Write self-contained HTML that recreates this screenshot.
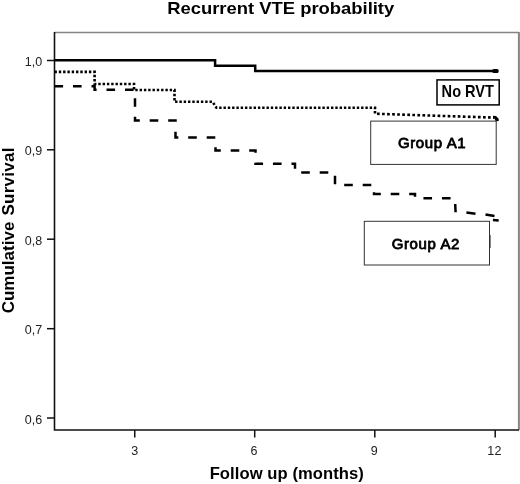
<!DOCTYPE html>
<html>
<head>
<meta charset="utf-8">
<title>Recurrent VTE probability</title>
<style>
html,body{margin:0;padding:0;background:#fff;}
body{width:520px;height:484px;overflow:hidden;font-family:"Liberation Sans",sans-serif;}
svg{display:block;will-change:transform;}
text{font-family:"Liberation Sans",sans-serif;}
</style>
</head>
<body>
<svg width="520" height="484" viewBox="0 0 520 484">
<rect x="0" y="0" width="520" height="484" fill="#ffffff"/>

<!-- title -->
<text id="title" transform="translate(280.7,13.6) scale(1,0.945)" font-size="18.42" font-weight="bold" text-anchor="middle" fill="#000">Recurrent VTE probability</text>

<!-- frame: top/right grey -->
<path d="M54.5 32.6 H518.9" fill="none" stroke="#858585" stroke-width="1.5"/>
<path d="M518.9 31.9 V430" fill="none" stroke="#858585" stroke-width="2"/>
<!-- axes -->
<path d="M54.5 32 V430 H519" fill="none" stroke="#111" stroke-width="1.6"/>

<!-- y ticks -->
<g stroke="#111" stroke-width="1.5">
<line x1="47" y1="60.5" x2="54.5" y2="60.5"/>
<line x1="47" y1="149.8" x2="54.5" y2="149.8"/>
<line x1="47" y1="239.2" x2="54.5" y2="239.2"/>
<line x1="47" y1="328.7" x2="54.5" y2="328.7"/>
<line x1="47" y1="418" x2="54.5" y2="418"/>
</g>
<!-- x ticks -->
<g stroke="#111" stroke-width="1.5">
<line x1="134.75" y1="430" x2="134.75" y2="437.5"/>
<line x1="254.7" y1="430" x2="254.7" y2="437.5"/>
<line x1="374.8" y1="430" x2="374.8" y2="437.5"/>
<line x1="495.2" y1="430" x2="495.2" y2="437.5"/>
</g>

<!-- y tick labels -->
<g font-size="12.5" fill="#222" text-anchor="end">
<text x="42.2" y="66">1,0</text>
<text x="42.2" y="155.3">0,9</text>
<text x="42.2" y="244.7">0,8</text>
<text x="42.2" y="334.2">0,7</text>
<text x="42.2" y="423.5">0,6</text>
</g>
<!-- x tick labels -->
<g font-size="12.5" fill="#222" text-anchor="middle">
<text x="134.75" y="455">3</text>
<text x="254.0" y="455">6</text>
<text x="374.2" y="455">9</text>
<text x="494.5" y="455" letter-spacing="0.4">12</text>
</g>

<!-- axis titles -->
<text id="xl" x="286.8" y="479.2" font-size="16.6" letter-spacing="0.07" font-weight="bold" text-anchor="middle" fill="#000">Follow up (months)</text>
<text id="yl" transform="translate(14.1,313.3) rotate(-90)" font-size="17" font-weight="bold" text-anchor="start" fill="#000">Cumulative</text>
<text id="yl2" transform="translate(14.1,147.3) rotate(-90)" font-size="17" font-weight="bold" letter-spacing="0.27" text-anchor="end" fill="#000">Survival</text>

<!-- curves -->
<!-- solid: No RVT -->
<path d="M54.5 60.2 H215.1 V65.8 H255.2 V71 H497" fill="none" stroke="#000" stroke-width="2.5"/>
<rect x="492.3" y="69.1" width="6.3" height="3.9" rx="1.5" fill="#000"/>

<!-- dotted: Group A1 -->
<path d="M54.5 71.9 H94.6 V84 H134 V90 H174.5 V101.8 H212.5 L216.5 107.8 H375 V113.7" fill="none" stroke="#000" stroke-width="2.6" stroke-dasharray="2.4 1.9"/>
<path d="M377 113.8 L494 117.6" fill="none" stroke="#000" stroke-width="2.6" stroke-dasharray="2.7 2.35"/>
<path d="M493 115.8 L496 116 L498.7 118.8 L498.7 121 L495.6 121.2 L494.6 118.8 L493 118.6 Z" fill="#000"/>

<!-- dashed: Group A2 -->
<path d="M54.5 86.2 H94.6 V89.7 H135 V120.5 H175.5 V137.5 H215.5 V150.5 H255.5 V163.75 H295 V172.5 H335 V185 H374 V194 H415 V198.25 H455.4" fill="none" stroke="#000" stroke-width="2.5" stroke-dasharray="8.6 9.9"/>
<path d="M455.2 204 L455.6 212.3 M466.4 212.5 L475.5 213.8 M485.5 214.6 L494.5 216.1 M492.9 220.1 L498.7 220.6" fill="none" stroke="#000" stroke-width="2.5"/>

<!-- label boxes -->
<rect x="437" y="79.9" width="62.2" height="25" fill="#fff" stroke="#000" stroke-width="1.5"/>
<text id="norvt" transform="translate(467.8,97) scale(0.9,1)" font-size="16.2" font-weight="bold" text-anchor="middle" fill="#000">No RVT</text>

<rect x="370.7" y="121.1" width="125.5" height="43.3" fill="#fff" stroke="#333" stroke-width="1"/>
<text id="a1" x="432.1" y="148.2" font-size="15" text-anchor="middle" fill="#000" stroke="#000" stroke-width="0.8" stroke-linejoin="round" letter-spacing="0.62">Group A1</text>

<rect x="364.3" y="221.3" width="125.2" height="43.7" fill="#fff" stroke="#333" stroke-width="1"/>
<line x1="490.1" y1="235" x2="490.1" y2="248" stroke="#333" stroke-width="1"/>
<text id="a2" x="425.9" y="248.9" font-size="15" text-anchor="middle" fill="#000" stroke="#000" stroke-width="0.8" stroke-linejoin="round" letter-spacing="0.62">Group A2</text>
</svg>
</body>
</html>
